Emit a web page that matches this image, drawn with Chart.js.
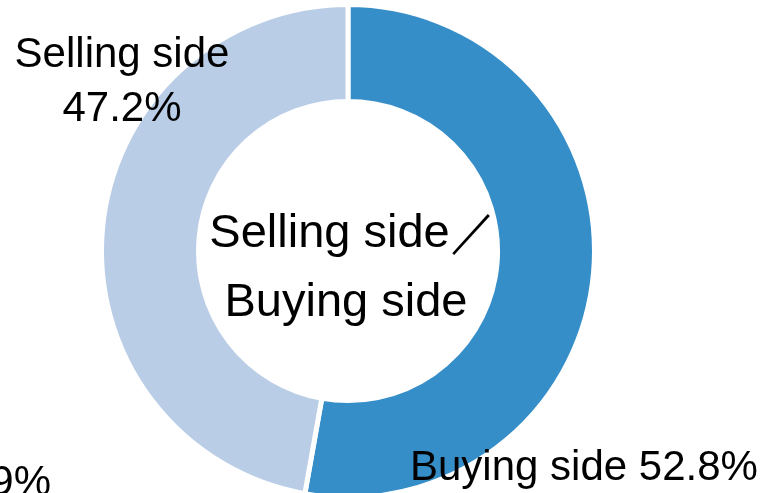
<!DOCTYPE html>
<html>
<head>
<meta charset="utf-8">
<script src="https://cdn.jsdelivr.net/npm/chart.js@4"></script>
<style>
    html, body { margin: 0; padding: 0; background: #ffffff; overflow: hidden; }
    #wrap { position: relative; width: 769px; height: 500px; }
</style>
</head>
<body>
<div id="wrap"><canvas id="shareChart"></canvas></div>
<script>
// Data
const sides = ['Buying side', 'Selling side'];
const shares = [52.8, 47.2];
const sideColors = ['#368ec9', '#b9cde6'];

const centerLines = ['Selling side／', 'Buying side'];
const fontFamily = '"Liberation Sans", Arial, sans-serif';

// Draws the outside labels and the text in the hole
const labelPlugin = {
    id: 'labels',
    afterDraw(chart) {
        const ctx = chart.ctx;
        const arc = chart.getDatasetMeta(0).data[0];
        const cx = arc.x;
        const cy = arc.y;

        ctx.save();
        ctx.fillStyle = '#000000';
        ctx.textBaseline = 'alphabetic';

        // centre text
        ctx.font = '47px ' + fontFamily;
        ctx.textAlign = 'center';
        ctx.fillText(centerLines[0], cx + 5, cy - 4);
        ctx.fillText(centerLines[1], cx - 2, cy + 65);

        // slice labels
        ctx.font = '42px ' + fontFamily;
        ctx.textAlign = 'center';
        ctx.fillText(sides[1], cx - 226, cy - 184);
        ctx.fillText(shares[1].toFixed(1) + '%', cx - 226, cy - 130);

        ctx.textAlign = 'left';
        ctx.fillText(sides[0] + ' ' + shares[0].toFixed(1) + '%', cx + 62, cy + 229);

        // cut-off label from neighbouring chart
        ctx.textAlign = 'right';
        ctx.fillText('9%', 51, cy + 244);
        ctx.restore();
    }
};

new Chart(document.getElementById('shareChart'), {
    type: 'doughnut',
    data: {
        labels: sides,
        datasets: [{
            data: shares,
            backgroundColor: sideColors,
            borderColor: '#ffffff',
            borderWidth: 5,
            radius: 246.5,
            cutout: 146.5
        }]
    },
    options: {
        responsive: true,
        maintainAspectRatio: false,
        animation: false,
        layout: {
            padding: { left: 0, right: 73, top: 7, bottom: 5 }
        },
        plugins: {
            legend: { display: false },
            tooltip: { enabled: false }
        }
    },
    plugins: [labelPlugin]
});
</script>
</body>
</html>
